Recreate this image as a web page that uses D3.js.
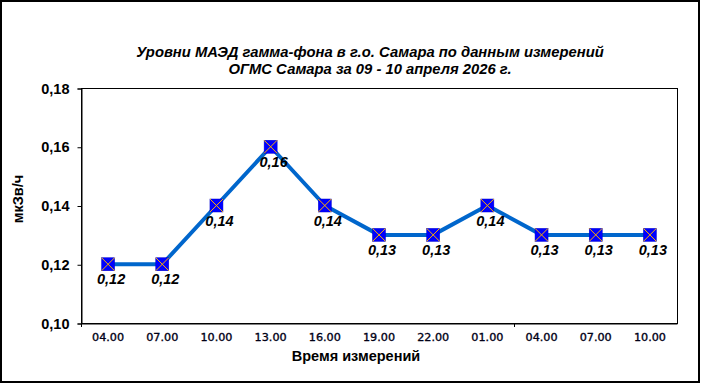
<!DOCTYPE html>
<html><head><meta charset="utf-8">
<script src="https://cdn.jsdelivr.net/npm/d3@7"></script>
<style>html,body{margin:0;padding:0;background:#fff;}svg{display:block;}</style>
</head><body>
<script>
const categories = ["04.00","07.00","10.00","13.00","16.00","19.00","22.00","01.00","04.00","07.00","10.00"];
const values = [0.12,0.12,0.14,0.16,0.14,0.13,0.13,0.14,0.13,0.13,0.13];
const yTicks = [0.10,0.12,0.14,0.16,0.18];
const titleLines = ["Уровни МАЭД гамма-фона в г.о. Самара по данным измерений","ОГМС Самара за 09 - 10 апреля 2026 г."];
const xTitle = "Время измерений";
const yTitle = "мкЗв/ч";

const W = 701, H = 383;
const L = 81, R = 677, T = 88, B = 323;
const svg = d3.select("body").append("svg").attr("width", W).attr("height", H);
svg.append("rect").attr("width", W).attr("height", H).attr("fill", "#fff");
svg.append("rect").attr("x",1).attr("y",1).attr("width",698).attr("height",381)
  .attr("fill","none").attr("stroke","#000").attr("stroke-width",2);

const idx = categories.map((d,i)=>i);
const x = d3.scaleBand().domain(idx).range([L, R]);
const y = d3.scaleLinear().domain([0.10, 0.18]).range([B, T]);

// plot area frame
svg.append("rect").attr("x", L+0.5).attr("y", T+0.5).attr("width", R-L).attr("height", B-T)
  .attr("fill","none").attr("stroke","#000").attr("stroke-width",1);

// y axis
const fmt = d => d3.format(".2f")(d).replace(".", ",");
const yAx = svg.append("g").attr("transform", `translate(${L+0.5},0.5)`)
  .call(d3.axisLeft(y).tickValues(yTicks).tickFormat(fmt).tickSize(4).tickPadding(8));
yAx.select(".domain").attr("stroke","#000");
yAx.selectAll("text").attr("font-family","Liberation Sans, Arial, sans-serif")
  .attr("font-size","14.5px").attr("font-weight","bold").attr("fill","#000");

// x axis
const xAx = svg.append("g").attr("transform", `translate(0,${B+0.5})`)
  .call(d3.axisBottom(x).tickFormat(i=>categories[i]).tickSize(0).tickPadding(10));
xAx.select(".domain").attr("stroke","#000");
xAx.selectAll("text").attr("font-family","DejaVu Sans, sans-serif")
  .attr("font-size","11.2px").attr("fill","#000016")
  .attr("stroke","#000016").attr("stroke-width",0.35);
// tick marks at category boundaries every 8
[0, 8].forEach(k => {
  const xx = Math.round(L + k * x.step()) + 0.5;
  svg.append("line").attr("x1", xx).attr("x2", xx).attr("y1", B).attr("y2", B+4)
    .attr("stroke","#000");
});

// line
const cx = i => x(i) + x.bandwidth()/2;
svg.append("path").datum(values)
  .attr("d", d3.line().x((d,i)=>cx(i)).y(d=>y(d)))
  .attr("fill","none").attr("stroke","#0066CC").attr("stroke-width",4).attr("stroke-linejoin","round");

// markers
const m = svg.append("g").selectAll("g").data(values).join("g")
  .attr("transform",(d,i)=>`translate(${cx(i)},${y(d)})`);
const s = 6.5;
m.append("rect").attr("x",-s).attr("y",-s).attr("width",2*s).attr("height",2*s)
  .attr("fill","#0000FF").attr("stroke","#0000CC").attr("stroke-width",0.5);
m.append("path").attr("d",`M${-s},${-s}L${s},${s}M${s},${-s}L${-s},${s}`)
  .attr("stroke","#FFB000").attr("stroke-width",1);

// data labels
svg.append("g").selectAll("text").data(values).join("text")
  .attr("x",(d,i)=>cx(i)+3).attr("y",d=>y(d)+20)
  .attr("text-anchor","middle")
  .attr("font-family","Liberation Sans, Arial, sans-serif").attr("font-size","14.5px")
  .attr("font-weight","bold").attr("font-style","italic").attr("fill","#000")
  .text(fmt);

// title
svg.append("g").selectAll("text").data(titleLines).join("text")
  .attr("x",370).attr("y",(d,i)=>57+i*17).attr("text-anchor","middle")
  .attr("font-family","Liberation Sans, Arial, sans-serif").attr("font-size","14.8px")
  .attr("font-weight","bold").attr("font-style","italic").attr("fill","#000")
  .text(d=>d);

// axis titles
svg.append("text").attr("x",356).attr("y",361).attr("text-anchor","middle")
  .attr("font-family","Liberation Sans, Arial, sans-serif").attr("font-size","14.5px")
  .attr("font-weight","bold").attr("fill","#000").text(xTitle);
svg.append("text").attr("transform","translate(23,199) rotate(-90)").attr("text-anchor","middle")
  .attr("font-family","Liberation Sans, Arial, sans-serif").attr("font-size","14.5px")
  .attr("font-weight","bold").attr("fill","#000").text(yTitle);
</script>
</body></html>
